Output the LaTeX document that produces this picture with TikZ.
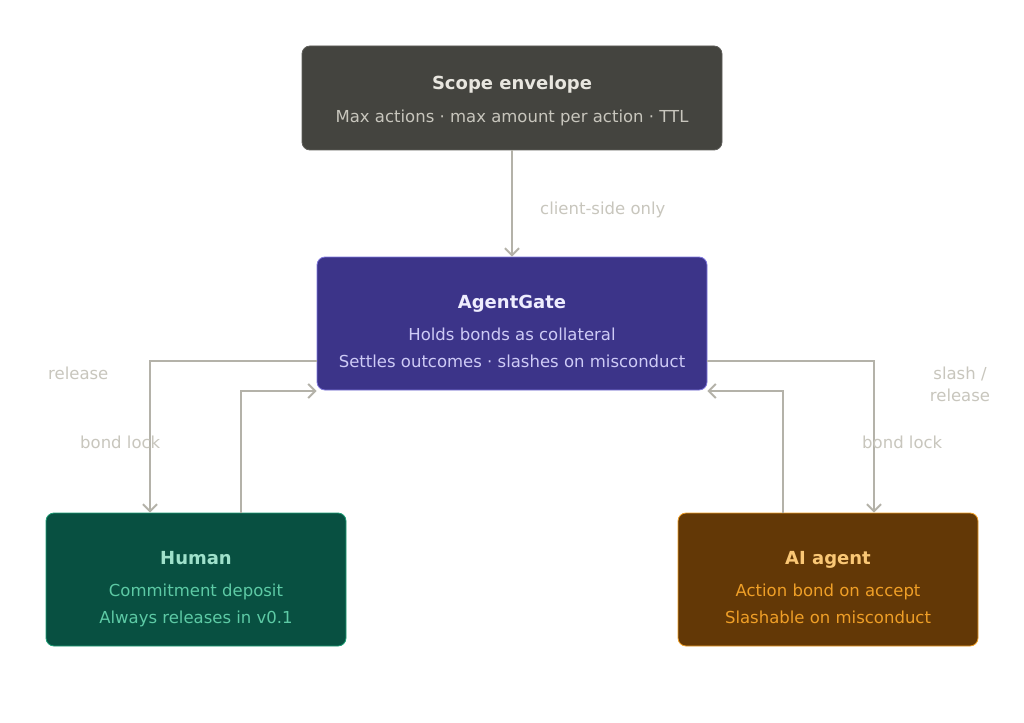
\documentclass[tikz,border=0pt]{standalone}
\usepackage{fontspec}
\setmainfont{DejaVu Sans}
\usepackage{tikz}
\usetikzlibrary{positioning, calc, arrows.meta}
\definecolor{scopefill}{HTML}{44443F}
\definecolor{scopeline}{HTML}{5F5E5A}
\definecolor{scopettl}{HTML}{E8E6DF}
\definecolor{scopesub}{HTML}{C8C6BD}
\definecolor{gatefill}{HTML}{3C3489}
\definecolor{gateline}{HTML}{7F77DD}
\definecolor{gatettl}{HTML}{EEEDFE}
\definecolor{gatesub}{HTML}{CECBF6}
\definecolor{humanfill}{HTML}{085041}
\definecolor{humanline}{HTML}{1D9E75}
\definecolor{humanttl}{HTML}{9FE1CB}
\definecolor{humansub}{HTML}{5DCAA5}
\definecolor{aifill}{HTML}{633806}
\definecolor{ailine}{HTML}{EF9F27}
\definecolor{aittl}{HTML}{FAC775}
\definecolor{aisub}{HTML}{EF9F27}
\definecolor{wire}{HTML}{B4B2A9}
\definecolor{wiretext}{HTML}{C8C6BD}
\tikzset{box/.style = {rectangle, rounded corners=8pt, line width=0.8pt, inner sep=0pt},
         ttl/.style = {anchor=base, font=\fontsize{18}{20}\selectfont\bfseries},
         sub/.style = {anchor=base, font=\fontsize{16.5}{20}\selectfont},
         lbl/.style = {text=wiretext, font=\fontsize{16.5}{22}\selectfont, inner sep=0pt},
         flow/.style = {draw=wire, line width=2pt, -{Straight Barb[length=7pt,width=14pt]}}}
\begin{document}
\begin{tikzpicture}[x=1pt,y=-1pt]
        \useasboundingbox [fill=white] (0,0) rectangle (1024,722);
        % boxes
        \node [box, fill=scopefill, draw=scopeline, minimum width=420pt, minimum height=104pt] (scope) at (512,98) {};
        \node [box, fill=gatefill, draw=gateline, minimum width=390pt, minimum height=133pt] (gate) at (512,323.5) {};
        \node [box, fill=humanfill, draw=humanline, minimum width=300pt, minimum height=133pt] (human) at (196,579.5) {};
        \node [box, fill=aifill, draw=ailine, minimum width=300pt, minimum height=133pt] (ai) at (828,579.5) {};
        % box texts
        \node [ttl, text=scopettl] (scopet) at (512,90) {Scope envelope};
        \node [sub, text=scopesub] (scopes) at (512,123) {Max actions · max amount per action · TTL};
        \node [ttl, text=gatettl] (gatet) at (512,308) {AgentGate};
        \node [sub, text=gatesub] (gates1) at (512,340) {Holds bonds as collateral};
        \node [sub, text=gatesub] (gates2) at (512,367) {Settles outcomes · slashes on misconduct};
        \node [ttl, text=humanttl] (humant) at (196,564) {Human};
        \node [sub, text=humansub] (humans1) at (196,596) {Commitment deposit};
        \node [sub, text=humansub] (humans2) at (196,623) {Always releases in v0.1};
        \node [ttl, text=aittl] (ait) at (828,564) {AI agent};
        \node [sub, text=aisub] (ais1) at (828,596) {Action bond on accept};
        \node [sub, text=aisub] (ais2) at (828,623) {Slashable on misconduct};
        % connectors
        \draw [flow] (scope) -- (gate);
        \draw [flow] ([yshift=-37.5pt]gate.west) -| ([xshift=-46pt]human.north);
        \draw [flow] ([xshift=45pt]human.north) |- ([yshift=-67.5pt]gate.west);
        \draw [flow] ([yshift=-37.5pt]gate.east) -| ([xshift=46pt]ai.north);
        \draw [flow] ([xshift=-45pt]ai.north) |- ([yshift=-67.5pt]gate.east);
        % labels
        \node [lbl, anchor=base west] (lclient) at (540,214) {client-side only};
        \node [lbl, anchor=base west] (lrelease) at (48,379) {release};
        \node [lbl, anchor=base west] (lbondh) at (80,448) {bond lock};
        \node [lbl, anchor=base, align=center] (lslash) at (960,401) {slash /\\release};
        \node [lbl, anchor=base west] (lbondai) at (862,448) {bond lock};
    \end{tikzpicture}
\end{document}
